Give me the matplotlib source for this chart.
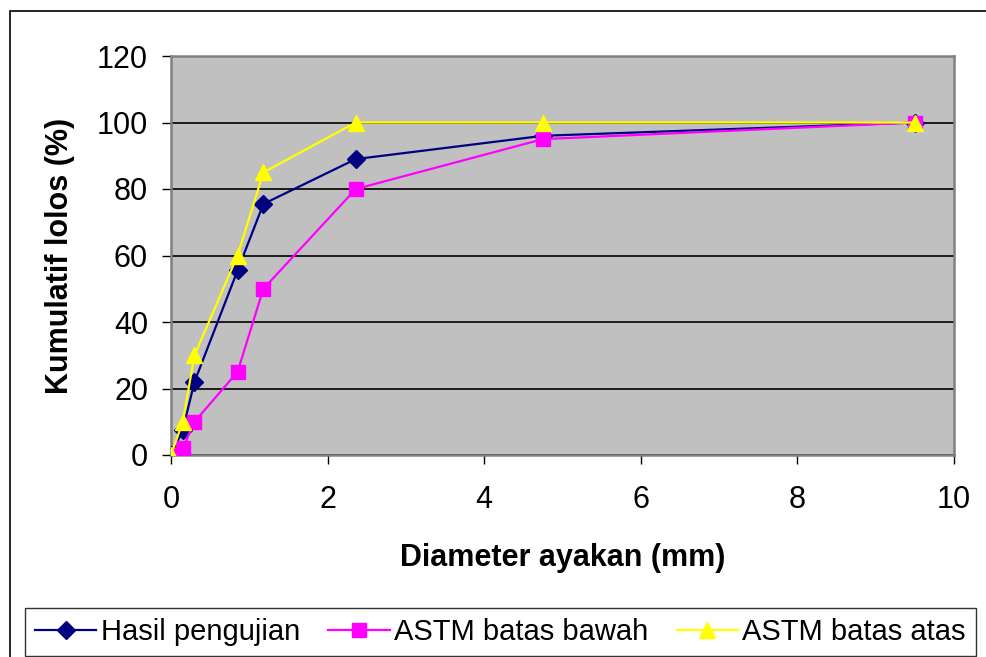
import matplotlib
matplotlib.use("Agg")
import matplotlib.pyplot as plt
from matplotlib.patches import Rectangle

# Sieve sizes (mm) and cumulative passing (%)
diameter = [0, 0.15, 0.3, 0.85, 1.18, 2.36, 4.75, 9.5]
hasil_pengujian = [0, 7.5, 22, 55.5, 75.5, 89, 96, 100]
astm_bawah = [0, 2, 10, 25, 50, 80, 95, 100]
astm_atas = [0, 10, 30, 60, 85, 100, 100, 100]

x_ticks = [0, 2, 4, 6, 8, 10]
y_ticks = [0, 20, 40, 60, 80, 100, 120]

plt.rcParams['font.family'] = ['Liberation Sans', 'DejaVu Sans']

fig = plt.figure(figsize=(9.86, 6.57), dpi=100)
fig.patch.set_facecolor('white')

# chart-area border
fig.patches.append(Rectangle((10 / 986, -0.02), 1.0, 1 - 11 / 657 + 0.02,
                             transform=fig.transFigure, fill=False,
                             edgecolor='black', linewidth=1.2, zorder=0))

ax = fig.add_axes([171 / 986, (657 - 455) / 657, (954 - 171) / 986, (455 - 56) / 657])
ax.set_facecolor('#c0c0c0')

ax.plot(diameter, hasil_pengujian, color='#000080', marker='D', markersize=9,
        linewidth=1.6, label='Hasil pengujian', zorder=3)
ax.plot(diameter, astm_bawah, color='#ff00ff', marker='s', markersize=10,
        linewidth=1.6, label='ASTM batas bawah', zorder=3)
ax.plot(diameter, astm_atas, color='#ffff00', marker='^', markersize=12,
        linewidth=1.6, label='ASTM batas atas', zorder=3)

ax.set_xlim(0, 10)
ax.set_ylim(0, 120)
ax.set_xticks(x_ticks)
ax.set_yticks(y_ticks)
ax.yaxis.grid(True, color='black', linewidth=1.2)
ax.set_axisbelow(True)
for sp in ax.spines.values():
    sp.set_color('#808080')
    sp.set_linewidth(1.8)

ax.tick_params(axis='both', direction='out', length=6.5, width=1.0,
               color='black', labelsize=22)
ax.tick_params(axis='y', pad=10)
ax.tick_params(axis='x', pad=15)
for lbl in ax.get_xticklabels() + ax.get_yticklabels():
    lbl.set_clip_on(False)

ax.set_xlabel('Diameter ayakan (mm)', fontsize=22, fontweight='bold', labelpad=20)
ax.set_ylabel('Kumulatif lolos (%)', fontsize=22, fontweight='bold', labelpad=16)

leg = fig.legend(loc='lower left', ncol=3, mode='expand',
                 bbox_to_anchor=(25 / 986, 1 / 657, (976 - 25) / 986, 52 / 657),
                 fontsize=21, frameon=True, fancybox=False, handlelength=2.1,
                 handletextpad=0.15, columnspacing=0.6, borderpad=0.35,
                 borderaxespad=0)
leg.get_frame().set_edgecolor('black')
leg.get_frame().set_linewidth(1.0)

fig.savefig('out.png', dpi=100, facecolor='white')
